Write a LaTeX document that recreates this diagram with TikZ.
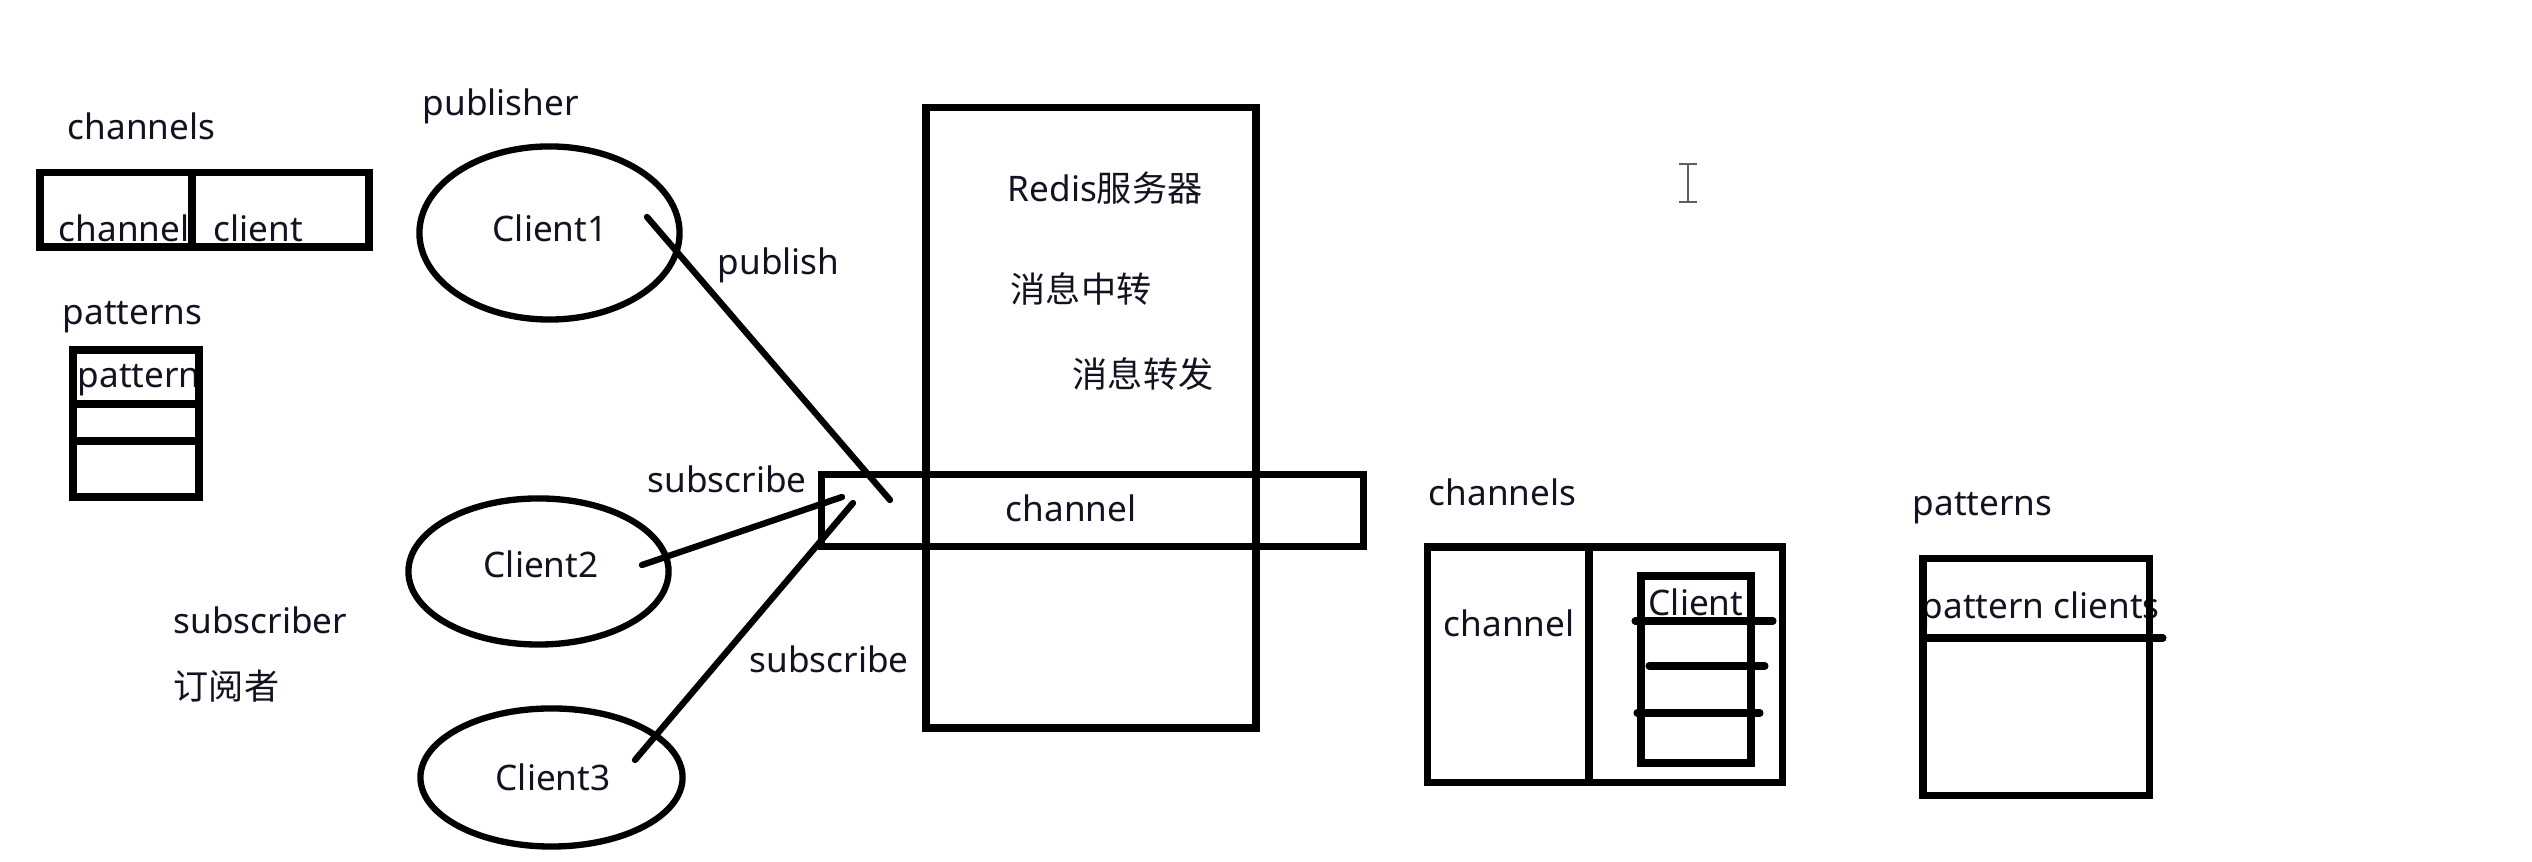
\documentclass[tikz,border=0pt]{standalone}
\usepackage{fontspec}
\setmainfont{Noto Sans}
\newfontfamily\cjk{Noto Sans CJK SC}
\usepackage{tikz}
\usetikzlibrary{shapes.geometric}
\definecolor{ink}{RGB}{18,18,32}
\definecolor{caret}{RGB}{95,95,105}

\begin{document}
\begin{tikzpicture}[x=0.01cm,y=-0.01cm,
  txt/.style={anchor=base west,inner sep=0pt,text=ink,yshift=-0.025cm,font=\fontsize{10}{12}\selectfont},
  frame/.style={black,line width=2pt},
  client/.style={ellipse,draw=black,line width=1.8pt,inner sep=0pt},
  wire/.style={black,line width=1.8pt,line cap=round}]
  \useasboundingbox (0,0) rectangle (2532,862);
  % left: channels / patterns tables
  \node[txt] (chLtitle) at (67,137) {channels};
  \node[txt] (chLkey) at (58,239) {channel};
  \node[txt] (chLval) at (213,239) {client};
  \draw[frame] (40,172.5) rectangle (369,247);
  \draw[frame] (192,172.5) -- (192,247);
  \node[txt] (ptLtitle) at (62,322) {patterns};
  \node[txt] (ptLkey) at (77,385) {pattern};
  \draw[frame] (73,350) rectangle (199,497);
  \foreach \y in {404,441}{
    \draw[frame] (73,\y) -- (199,\y);
  }
  \node[txt] (subtitle) at (173,631) {subscriber};
  \node[txt] (subcn) at (173,697) {\cjk 订阅者};
  % clients
  \node[txt] (pubtitle) at (422,113) {publisher};
  \node[client,minimum width=2.60cm,minimum height=1.73cm] (c1) at (549.5,233) {};
  \node[client,minimum width=2.60cm,minimum height=1.46cm] (c2) at (538.5,571.5) {};
  \node[client,minimum width=2.62cm,minimum height=1.38cm] (c3) at (551.5,777.5) {};
  \node[txt] (c1txt) at (492,239) {Client1};
  \node[txt] (c2txt) at (483,575) {Client2};
  \node[txt] (c3txt) at (495,788) {Client3};
  % redis server with the channel bar
  \draw[frame] (926,107.5) rectangle (1256,728);
  \node[txt] (redis) at (1007,199) {Redis{\cjk 服务器}};
  \node[txt] (relay) at (1010,300) {\cjk 消息中转};
  \node[txt] (fwd) at (1072,385) {\cjk 消息转发};
  \draw[frame] (821.5,474.5) rectangle (1363.5,546.5);
  \node[txt] (chbar) at (1005,519) {channel};
  % publish / subscribe strokes
  \coordinate (pubA) at (647,217);
  \coordinate (pubB) at (890,500);
  \coordinate (subA) at (642,565);
  \coordinate (subB) at (842,497);
  \coordinate (subC) at (635,760);
  \coordinate (subD) at (853,503);
  \draw[wire] (pubA) -- (pubB);
  \draw[wire] (subA) -- (subB);
  \draw[wire] (subC) -- (subD);
  \node[txt] (publbl) at (717,272) {publish};
  \node[txt] (sublbl1) at (647,490) {subscribe};
  \node[txt] (sublbl2) at (749,670) {subscribe};
  % right: channels dict
  \node[txt] (chRtitle) at (1428,503) {channels};
  \node[txt] (chRkey) at (1443,634) {channel};
  \node[txt] (chRcli) at (1648,613) {Client};
  \draw[frame] (1427.5,547) rectangle (1782.5,782.5);
  \draw[frame] (1589,547) -- (1589,782.5);
  \draw[frame] (1641,576) rectangle (1751,763);
  \foreach \y/\xa/\xb in {621/1635/1773,666/1649/1765,713/1637/1760}{
    \draw[frame,line cap=round] (\xa,\y) -- (\xb,\y);
  }
  % right: patterns list
  \node[txt] (ptRtitle) at (1912,513) {patterns};
  \node[txt] (ptRkey) at (1921,616) {pattern clients};
  \draw[frame] (1923,558.5) rectangle (2149.5,795.5);
  \draw[frame,line cap=round] (1923,638) -- (2163,638);
  % text cursor
  \draw[caret,line width=0.8pt] (1679,164) -- (1697,164) (1688,164) -- (1688,202) (1679,202) -- (1697,202);
\end{tikzpicture}
\end{document}
